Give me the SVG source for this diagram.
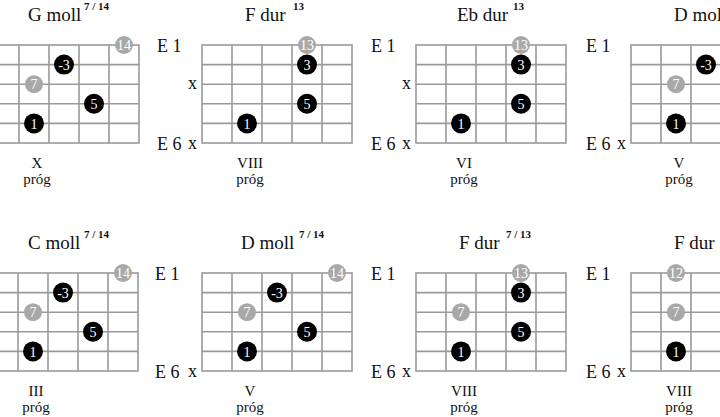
<svg xmlns="http://www.w3.org/2000/svg" width="720" height="417" viewBox="0 0 720 417" font-family="'Liberation Serif', 'DejaVu Serif', serif">
<style>
text{font-family:'Liberation Serif','Times New Roman','DejaVu Serif',serif;fill:#111}
.t{font-size:19px}
.s{font-size:11px;font-weight:bold}
.l{font-size:18px}
.p{font-size:15px;text-anchor:middle}
.g{fill:none;stroke:#9a9a9a;stroke-width:1.6}
.b{fill:#000}
.y{fill:#a8a8a8}
.n{font-size:14px;fill:#fff;text-anchor:middle}
</style>
<defs>
<g id="grid">
<rect class="g" x="0" y="0" width="150" height="98"/>
<path class="g" d="M30 0V98M60 0V98M90 0V98M120 0V98M0 19.6H150M0 39.2H150M0 58.8H150M0 78.4H150"/>
</g>
</defs>
<rect width="720" height="417" fill="#fff"/>

<g id="d1" transform="translate(-11,45)">
<use href="#grid"/>
<text class="t" x="39" y="-24">G moll</text><text class="s" x="95" y="-35">7 / 14</text>
<circle class="y" cx="135" cy="0" r="9"/><text class="n" x="135" y="5">14</text>
<circle class="b" cx="75" cy="19.6" r="10"/><text class="n" x="75" y="24.5">-3</text>
<circle class="y" cx="45" cy="39.2" r="9"/><text class="n" x="45" y="44">7</text>
<circle class="b" cx="105" cy="58.8" r="10"/><text class="n" x="105" y="64">5</text>
<circle class="b" cx="45" cy="78.4" r="10"/><text class="n" x="45" y="83.5">1</text>
<text class="p" x="48" y="123">X</text><text class="p" x="48" y="139">próg</text>
</g>

<g id="d2" transform="translate(202,45)">
<use href="#grid"/>
<text class="l" x="-45" y="7">E 1</text><text class="l" x="-45" y="105">E 6</text>
<text class="l" x="-14" y="104">x</text><text class="l" x="-14" y="44">x</text>
<text class="t" x="43" y="-24">F dur</text><text class="s" x="91" y="-35">13</text>
<circle class="y" cx="105" cy="0" r="9"/><text class="n" x="105" y="5">13</text>
<circle class="b" cx="105" cy="19.6" r="10"/><text class="n" x="105" y="24.5">3</text>
<circle class="b" cx="105" cy="58.8" r="10"/><text class="n" x="105" y="64">5</text>
<circle class="b" cx="45" cy="78.4" r="10"/><text class="n" x="45" y="83.5">1</text>
<text class="p" x="48" y="123">VIII</text><text class="p" x="48" y="139">próg</text>
</g>

<g id="d3" transform="translate(416,45)">
<use href="#grid"/>
<text class="l" x="-45" y="7">E 1</text><text class="l" x="-45" y="105">E 6</text>
<text class="l" x="-14" y="104">x</text><text class="l" x="-14" y="44">x</text>
<text class="t" x="41" y="-24">Eb dur</text><text class="s" x="97" y="-35">13</text>
<circle class="y" cx="105" cy="0" r="9"/><text class="n" x="105" y="5">13</text>
<circle class="b" cx="105" cy="19.6" r="10"/><text class="n" x="105" y="24.5">3</text>
<circle class="b" cx="105" cy="58.8" r="10"/><text class="n" x="105" y="64">5</text>
<circle class="b" cx="45" cy="78.4" r="10"/><text class="n" x="45" y="83.5">1</text>
<text class="p" x="48" y="123">VI</text><text class="p" x="48" y="139">próg</text>
</g>

<g id="d4" transform="translate(631,45)">
<use href="#grid"/>
<text class="l" x="-45" y="7">E 1</text><text class="l" x="-45" y="105">E 6</text>
<text class="l" x="-14" y="104">x</text>
<text class="t" x="43" y="-24">D moll</text><text class="s" x="101" y="-35">7 / 14</text>
<circle class="y" cx="135" cy="0" r="9"/><text class="n" x="135" y="5">14</text>
<circle class="b" cx="75" cy="19.6" r="10"/><text class="n" x="75" y="24.5">-3</text>
<circle class="y" cx="45" cy="39.2" r="9"/><text class="n" x="45" y="44">7</text>
<circle class="b" cx="105" cy="58.8" r="10"/><text class="n" x="105" y="64">5</text>
<circle class="b" cx="45" cy="78.4" r="10"/><text class="n" x="45" y="83.5">1</text>
<text class="p" x="48" y="123">V</text><text class="p" x="48" y="139">próg</text>
</g>

<g id="d5" transform="translate(-12,273)">
<use href="#grid"/>
<text class="t" x="40" y="-24">C moll</text><text class="s" x="96" y="-35">7 / 14</text>
<circle class="y" cx="135" cy="0" r="9"/><text class="n" x="135" y="5">14</text>
<circle class="b" cx="75" cy="19.6" r="10"/><text class="n" x="75" y="24.5">-3</text>
<circle class="y" cx="45" cy="39.2" r="9"/><text class="n" x="45" y="44">7</text>
<circle class="b" cx="105" cy="58.8" r="10"/><text class="n" x="105" y="64">5</text>
<circle class="b" cx="45" cy="78.4" r="10"/><text class="n" x="45" y="83.5">1</text>
<text class="p" x="48" y="123">III</text><text class="p" x="48" y="139">próg</text>
</g>

<g id="d6" transform="translate(202,273)">
<use href="#grid"/>
<text class="l" x="-47" y="7">E 1</text><text class="l" x="-47" y="105">E 6</text>
<text class="l" x="-14" y="104">x</text>
<text class="t" x="39" y="-24">D moll</text><text class="s" x="97" y="-35">7 / 14</text>
<circle class="y" cx="135" cy="0" r="9"/><text class="n" x="135" y="5">14</text>
<circle class="b" cx="75" cy="19.6" r="10"/><text class="n" x="75" y="24.5">-3</text>
<circle class="y" cx="45" cy="39.2" r="9"/><text class="n" x="45" y="44">7</text>
<circle class="b" cx="105" cy="58.8" r="10"/><text class="n" x="105" y="64">5</text>
<circle class="b" cx="45" cy="78.4" r="10"/><text class="n" x="45" y="83.5">1</text>
<text class="p" x="48" y="123">V</text><text class="p" x="48" y="139">próg</text>
</g>

<g id="d7" transform="translate(416,273)">
<use href="#grid"/>
<text class="l" x="-45" y="7">E 1</text><text class="l" x="-45" y="105">E 6</text>
<text class="l" x="-14" y="104">x</text>
<text class="t" x="43" y="-24">F dur</text><text class="s" x="90" y="-35">7 / 13</text>
<circle class="y" cx="105" cy="0" r="9"/><text class="n" x="105" y="5">13</text>
<circle class="b" cx="105" cy="19.6" r="10"/><text class="n" x="105" y="24.5">3</text>
<circle class="y" cx="45" cy="39.2" r="9"/><text class="n" x="45" y="44">7</text>
<circle class="b" cx="105" cy="58.8" r="10"/><text class="n" x="105" y="64">5</text>
<circle class="b" cx="45" cy="78.4" r="10"/><text class="n" x="45" y="83.5">1</text>
<text class="p" x="48" y="123">VIII</text><text class="p" x="48" y="139">próg</text>
</g>

<g id="d8" transform="translate(631,273)">
<use href="#grid"/>
<text class="l" x="-45" y="7">E 1</text><text class="l" x="-45" y="105">E 6</text>
<text class="l" x="-14" y="104">x</text>
<text class="t" x="43" y="-24">F dur</text>
<circle class="y" cx="45" cy="0" r="9"/><text class="n" x="45" y="5">12</text>
<circle class="y" cx="45" cy="39.2" r="9"/><text class="n" x="45" y="44">7</text>
<circle class="b" cx="45" cy="78.4" r="10"/><text class="n" x="45" y="83.5">1</text>
<text class="p" x="48" y="123">VIII</text><text class="p" x="48" y="139">próg</text>
</g>
</svg>
